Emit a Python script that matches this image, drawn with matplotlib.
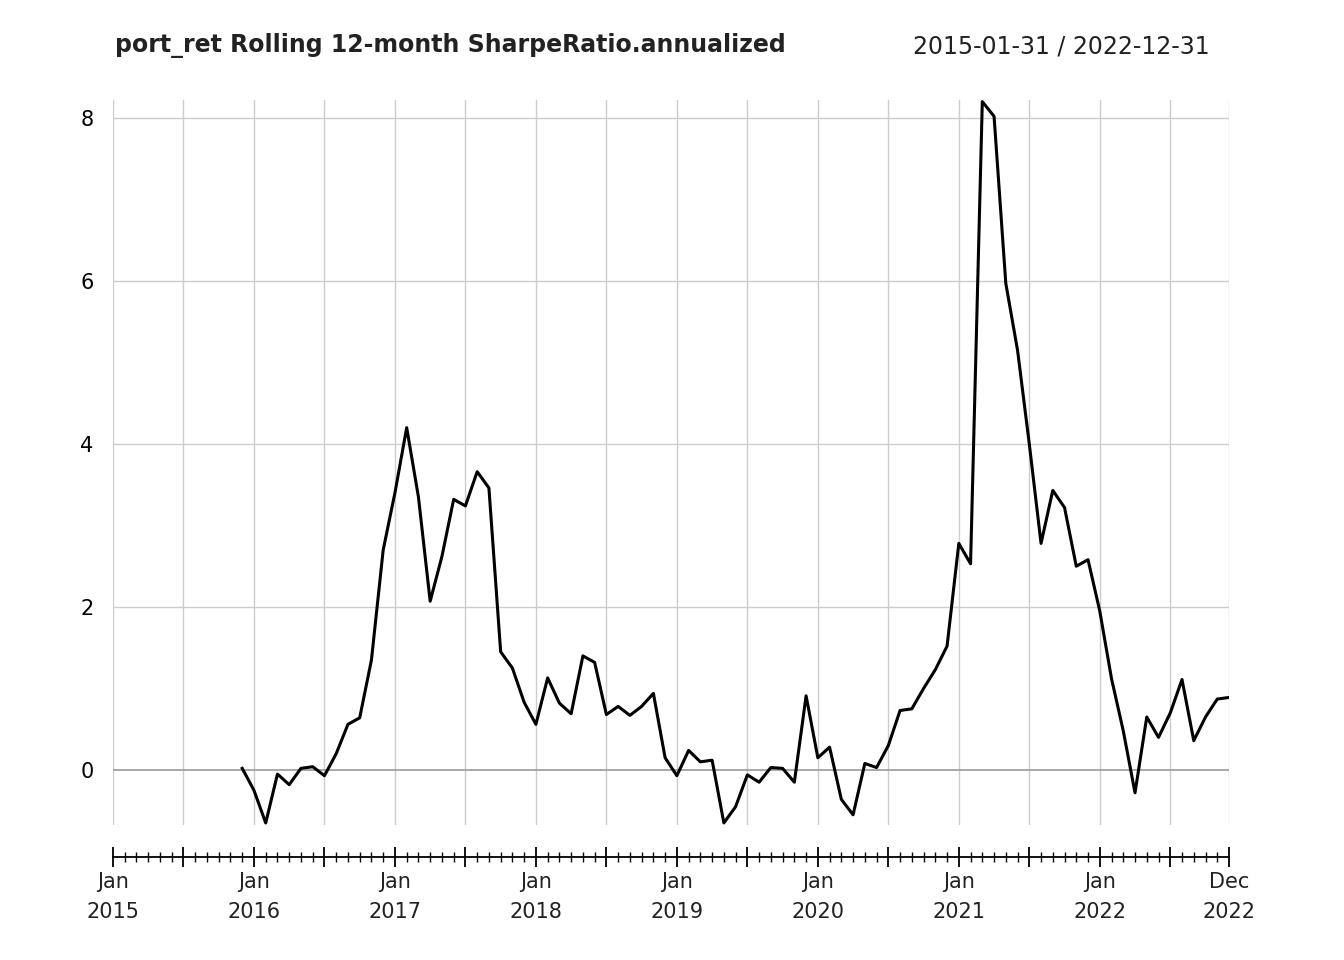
import matplotlib
matplotlib.use("Agg")
import matplotlib.pyplot as plt
import numpy as np

# Rolling 12-month annualized Sharpe ratio, monthly Jan 2015 .. Dec 2022
START_INDEX = 11  # first value at Dec 2015
sharpe = [
    0.02, -0.25, -0.65, -0.05, -0.18, 0.02, 0.04, -0.07, 0.20, 0.56, 0.64, 1.35,
    2.70, 3.40, 4.20, 3.35, 2.07, 2.62, 3.32, 3.24, 3.66, 3.46, 1.45, 1.25,
    0.83, 0.56, 1.13, 0.82, 0.69, 1.40, 1.32, 0.68, 0.78, 0.67, 0.78, 0.94,
    0.15, -0.07, 0.24, 0.10, 0.12, -0.65, -0.45, -0.06, -0.15, 0.03, 0.02, -0.15,
    0.91, 0.15, 0.28, -0.36, -0.55, 0.08, 0.03, 0.30, 0.73, 0.75, 1.00, 1.23,
    1.52, 2.78, 2.53, 8.20, 8.02, 5.97, 5.15, 4.00, 2.78, 3.43, 3.22, 2.50,
    2.58, 1.95, 1.12, 0.48, -0.28, 0.65, 0.40, 0.70, 1.11, 0.36, 0.65, 0.87, 0.89,
]
N_MONTHS = 96
major_pos = [0, 12, 24, 36, 48, 60, 72, 84, 95]
major_labels = ["Jan\n2015", "Jan\n2016", "Jan\n2017", "Jan\n2018", "Jan\n2019",
                "Jan\n2020", "Jan\n2021", "Jan\n2022", "Dec\n2022"]
y_ticks = [0, 2, 4, 6, 8]

W, H = 1344, 960
fig = plt.figure(figsize=(W / 100, H / 100), dpi=100)
ax = fig.add_axes([113 / W, 1 - 825 / H, (1229 - 113) / W, (825 - 100) / H])

x = np.arange(START_INDEX, START_INDEX + len(sharpe))
ax.set_xlim(0, N_MONTHS - 1)
ax.set_ylim(-0.675, 8.22)

for gx in list(range(0, N_MONTHS, 6)) + [N_MONTHS - 1]:
    ax.axvline(gx, color="#cccccc", lw=1, zorder=0)
for gy in y_ticks:
    ax.axhline(gy, color="#999999" if gy == 0 else "#cccccc", lw=1.2 if gy == 0 else 1, zorder=0)

ax.plot(x, sharpe, color="black", lw=2.2, zorder=3)

for s in ["top", "right", "left"]:
    ax.spines[s].set_visible(False)
ax.spines["bottom"].set_position(("outward", 23))
ax.spines["bottom"].set_linewidth(1.3)

ax.set_yticks(y_ticks)
ax.tick_params(axis="y", length=0, labelsize=15, pad=14)
ax.set_xticks(list(range(0, N_MONTHS, 6)) + [N_MONTHS - 1])
ax.set_xticklabels([major_labels[major_pos.index(p)] if p in major_pos else ""
                    for p in list(range(0, N_MONTHS, 6)) + [N_MONTHS - 1]])
ax.set_xticks(range(N_MONTHS), minor=True)
ax.tick_params(axis="x", which="major", length=14, width=1.3, direction="inout", labelsize=15, pad=4)
ax.tick_params(axis="x", which="minor", length=7, width=1, direction="inout")
for lab in ax.get_xticklabels():
    lab.set_linespacing(1.6)
    lab.set_color("#222222")

fig.text(115 / W, 1 - 46 / H, "port_ret Rolling 12-month SharpeRatio.annualized",
         fontsize=17, fontweight="bold", va="center", ha="left", color="#222222")
fig.text(1210 / W, 1 - 46 / H, "2015-01-31 / 2022-12-31",
         fontsize=17, va="center", ha="right", color="#222222")

fig.savefig("out.png", dpi=100)
